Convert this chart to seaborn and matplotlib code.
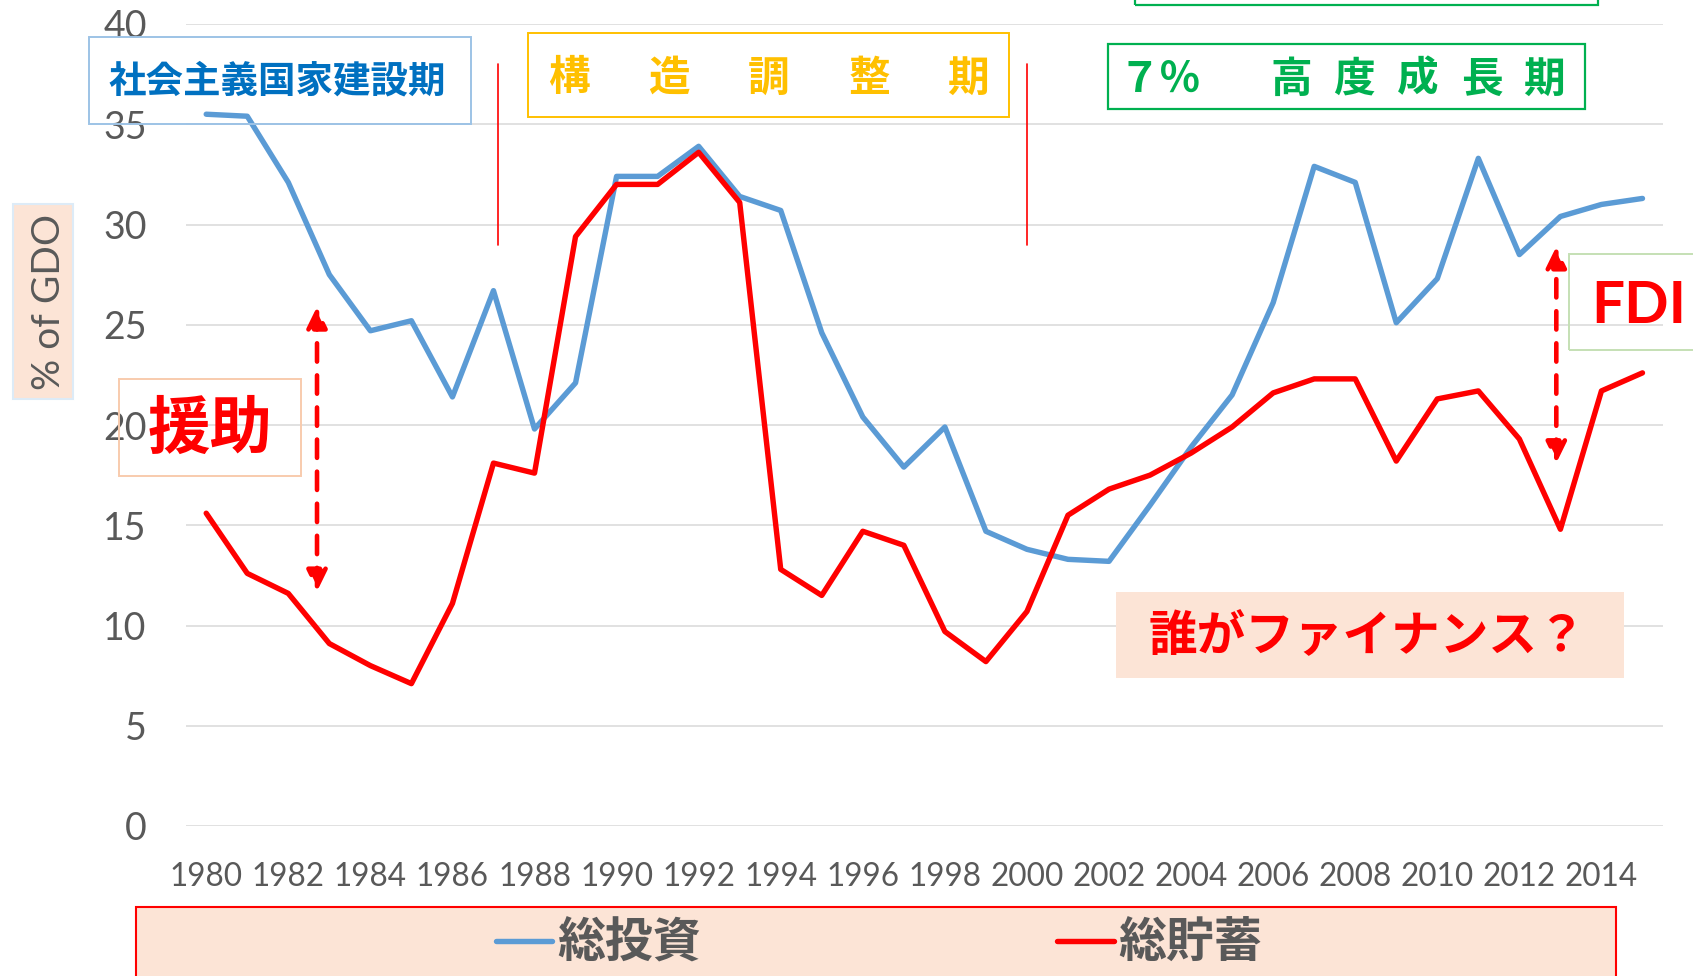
import matplotlib
matplotlib.use("Agg")
import matplotlib.pyplot as plt
import seaborn as sns
import pandas as pd
from matplotlib.patches import Rectangle
from matplotlib.font_manager import FontProperties

# ---- data ----
years = list(range(1980, 2016))
investment = [35.5, 35.4, 32.1, 27.5, 24.7, 25.2, 21.4, 26.7, 19.8, 22.1,
              32.4, 32.4, 33.9, 31.4, 30.7, 24.6, 20.4, 17.9, 19.9, 14.7,
              13.8, 13.3, 13.2, 16.0, 18.9, 21.5, 26.1, 32.9, 32.1, 25.1,
              27.3, 33.3, 28.5, 30.4, 31.0, 31.3]
saving = [15.6, 12.6, 11.6, 9.1, 8.0, 7.1, 11.1, 18.1, 17.6, 29.4,
          32.0, 32.0, 33.6, 31.1, 12.8, 11.5, 14.7, 14.0, 9.7, 8.2,
          10.7, 15.5, 16.8, 17.5, 18.6, 19.9, 21.6, 22.3, 22.3, 18.2,
          21.3, 21.7, 19.3, 14.8, 21.7, 22.6]
series_names = ["総投資", "総貯蓄"]
y_ticks = [0, 5, 10, 15, 20, 25, 30, 35, 40]
x_ticks = list(range(1980, 2015, 2))

df = pd.DataFrame({"year": years, series_names[0]: investment, series_names[1]: saving})

sns.set_theme(style="white")
plt.rcParams["font.family"] = ["Lato", "Noto Sans CJK JP", "DejaVu Sans"]

W, H = 1693, 976
fig = plt.figure(figsize=(W / 100, H / 100), dpi=100)
ax = fig.add_axes([185.7 / W, 1 - 826 / H, (1663 - 185.7) / W, (826 - 24) / H])

BLUE = "#5B9BD5"
RED = "#FF0000"
GRAY = "#595959"
PEACH = "#FCE4D6"
JP = "Noto Sans CJK JP"

sns.lineplot(data=df, x="year", y=series_names[0], ax=ax, color=BLUE, lw=3.9,
             label=series_names[0], solid_joinstyle="round", solid_capstyle="round")
sns.lineplot(data=df, x="year", y=series_names[1], ax=ax, color=RED, lw=3.9,
             label=series_names[1], solid_joinstyle="round", solid_capstyle="round")
handles, labels = ax.get_legend_handles_labels()
if ax.get_legend() is not None:
    ax.get_legend().remove()

ax.set_xlim(1979.5, 2015.5)
ax.set_ylim(0, 40)
ax.set_xticks(x_ticks)
ax.set_yticks(y_ticks)
ax.set_xlabel("")
ax.set_ylabel("")
ax.grid(axis="y", color="#D9D9D9", lw=1.1)
ax.set_axisbelow(True)
for s in ax.spines.values():
    s.set_visible(False)
ax.tick_params(axis="x", length=0, pad=26, labelsize=22.7, labelcolor=GRAY)
ax.tick_params(axis="y", length=0, pad=28, labelsize=27, labelcolor=GRAY)

# period separators
for xv in [1987.1, 2000.0]:
    ax.plot([xv, xv], [29.0, 38.0], color=RED, lw=1.2)

# dashed double arrows
for xv, y0, y1 in [(1982.7, 11.7, 25.9), (2012.9, 18.1, 28.9)]:
    ax.annotate("", xy=(xv, y1), xytext=(xv, y0),
                arrowprops=dict(arrowstyle="<|-|>,head_length=0.45,head_width=0.22",
                                color=RED, lw=3.3, linestyle=(0, (4, 3)),
                                mutation_scale=28, shrinkA=0, shrinkB=0))


def fx(x):
    return x / W


def fy(y):
    return 1 - y / H


def box(x0, y0, x1, y1, ec, fc="none", lw=1.1):
    fig.add_artist(Rectangle((fx(x0), fy(y1)), fx(x1 - x0), (y1 - y0) / H,
                             transform=fig.transFigure, ec=ec, fc=fc, lw=lw))


# y-axis label box
box(12.7, 204, 73.3, 399, "#DDEBF7", PEACH, 1.5)
fig.text(fx(60), fy(301.5), "% of GDO", rotation=90, rotation_mode="anchor",
         ha="center", va="baseline", fontsize=28, color=GRAY)

# period boxes
box(89, 37, 471, 124, "#9DC3E6", lw=1.4)
fig.text(fx(277), fy(81.5), "社会主義国家建設期", family=JP, weight="bold",
         fontsize=27, color="#0070C0", ha="center", va="center")

box(528, 33, 1009, 117, "#FFC000", lw=1.4)
for ch, cx in zip("構造調整期", [569, 669, 769, 869, 967.5]):
    fig.text(fx(cx), fy(78.5), ch, family=JP, weight="bold", fontsize=30,
             color="#FFC000", ha="center", va="center")

box(1135, -30, 1598, 4.5, "#00B050", lw=1.6)
box(1108, 44, 1585, 109, "#00B050", lw=1.6)
for ch, cx in zip(["７", "％", "高", "度", "成", "長", "期"],
                  [1139.5, 1180, 1291.5, 1354, 1417.5, 1481.5, 1543.5]):
    fig.text(fx(cx), fy(79.5), ch, family=JP, weight="bold", fontsize=30,
             color="#00B050", ha="center", va="center")

# aid / FDI / financing callouts
box(119.3, 379, 301, 476, "#F8CBAD", lw=1.4)
fig.text(fx(210), fy(429), "援助", family=JP, weight="bold", fontsize=45,
         color=RED, ha="center", va="center")

box(1569, 254, 1720, 350, "#C5E0B4", lw=1.4)
fig.text(fx(1639), fy(323), "FDI", family="Lato", weight="bold", fontsize=42,
         color=RED, ha="center", va="baseline")

box(1116, 592.3, 1624, 677.7, "none", PEACH, 0)
fig.text(fx(1367), fy(637), "誰がファイナンス？", family=JP, weight="bold",
         fontsize=35, color=RED, ha="center", va="center")

# legend
box(135.7, 907.3, 1615.6, 1000, RED, PEACH, 1.5)
fig.legend(handles, labels, loc="center left", bbox_to_anchor=(fx(496), fy(943)),
           bbox_transform=fig.transFigure, ncol=2, frameon=False, borderpad=0,
           borderaxespad=0, handlelength=1.17, handletextpad=0.1,
           columnspacing=7.45, labelcolor=GRAY,
           prop=FontProperties(family=JP, weight="bold", size=34.5))

fig.savefig("out.png", dpi=100)
